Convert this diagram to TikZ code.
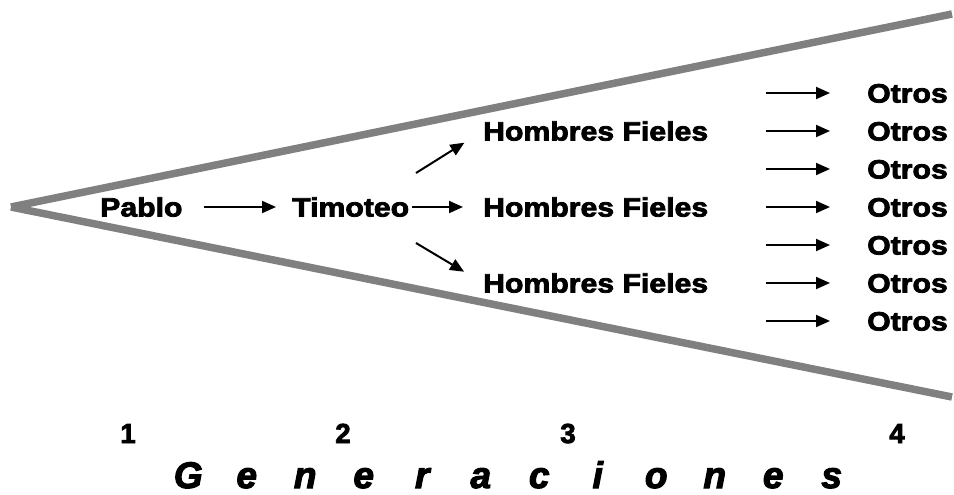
\documentclass[tikz,border=0pt]{standalone}
\usepackage{fontspec}
\setmainfont{Liberation Sans}
\newfontfamily\blk{Liberation Sans}[FakeStretch=1.14,FakeBold=3]
\newfontfamily\numf{Liberation Sans}[FakeStretch=1.0,FakeBold=3]
\newfontfamily\gen{Liberation Sans}[FakeBold=3]
\usetikzlibrary{arrows.meta}
\definecolor{lineGray}{RGB}{128,128,128}
\tikzset{
  txt/.style={font=\blk\bfseries\fontsize{26.5}{30}\selectfont, inner sep=0pt, text height=19pt, text depth=0pt, anchor=west},
  num/.style={font=\numf\bfseries\fontsize{27.5}{30}\selectfont, inner sep=0pt, anchor=base},
  arr/.style={line width=2pt, -{Triangle[length=14pt,width=12pt]}},
  wedge/.style={line width=7.5pt, draw=lineGray, line cap=butt}
}
\newcommand{\lb}[1]{\makebox[58.5pt]{#1}}
\begin{document}
\begin{tikzpicture}[x=1pt,y=-1pt]
\useasboundingbox (0,0) rectangle (954,495);
% wedge
\coordinate (apex) at (11,207);
\coordinate (topend) at (952,14);
\coordinate (botend) at (952,397);
\draw[wedge] (apex) -- (topend);
\draw[wedge] (apex) -- (botend);
% main texts
\node[txt] (pablo) at (100,207) {Pablo};
\node[txt] (timoteo) at (292,207) {Timoteo};
\node[txt] (hfu) at (483,131) {Hombres Fieles};
\node[txt] (hfm) at (483,207) {Hombres Fieles};
\node[txt] (hfl) at (483,283) {Hombres Fieles};
\foreach \i/\y in {1/93,2/131,3/169,4/207,5/245,6/283,7/321}{
  \node[txt] (o\i) at (867,\y) {Otros};
  \coordinate (s\i) at (766,\y);
  \draw[arr, shorten >=37pt] (s\i) -- (o\i.west);
}
\draw[arr, shorten <=21pt, shorten >=16pt] (pablo.east) -- (timoteo.west);
\draw[arr, shorten <=3pt, shorten >=20pt] (timoteo.east) -- (hfm.west);
\coordinate (du) at (416,173);
\coordinate (dl) at (416,243);
\draw[arr, shorten >=22pt] (du) -- (hfu.west);
\draw[arr, shorten >=22pt] (dl) -- (hfl.west);
% generation numbers
\node[num] (g1) at (128,443) {1};
\node[num] (g2) at (343,443) {2};
\node[num] (g3) at (568,443) {3};
\node[num] (g4) at (897,443) {4};
\node[font=\gen\bfseries\itshape\fontsize{37}{42}\selectfont, inner sep=0pt, anchor=base] (gen) at (510,488)
  {\lb{G}\lb{e}\lb{n}\lb{e}\lb{r}\lb{a}\lb{c}\lb{i}\lb{o}\lb{n}\lb{e}\lb{s}};
\end{tikzpicture}
\end{document}
